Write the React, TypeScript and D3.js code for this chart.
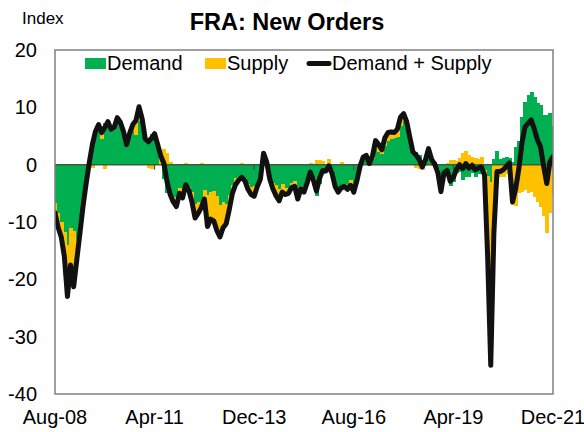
import React from 'react';
import * as d3 from 'd3';

// Monthly, Aug-08 .. Dec-21 (161 obs)
const START_YEAR = 2008;
const START_MONTH = 7; // August (0-based)

const demand: number[] = [
  -6.7, -8.5, -10.0, -11.7, -14.0, -11.0, -11.5, -13.0, -10.5, -6.5, -3.0,
  0.3, 4.0, 5.5, 6.2, 4.4, 7.3, 7.0, 5.9, 6.0, 7.2, 6.6, 5.2,
  3.2, 5.0, 5.8, 5.2, 7.6, 7.2, 4.2, 4.6, 5.3, 5.0, 3.2, 0.0, -2.5,
  -5.0, -5.7, -5.7, -6.1, -4.0, -5.3, -3.8, -3.9, -4.7, -6.8, -6.5, -7.8,
  -4.5, -5.3, -4.7, -4.6, -5.5, -7.1, -6.5, -6.8, -5.3, -3.5, -2.3, -2.2, -2.5,
  -2.3, -3.3, -3.9, -3.7, -3.0, -2.2, 1.7, 0.3, -2.0, -3.2, -3.6, -4.3, -3.3, -4.0, -4.0, -3.2, -2.8, -4.8,
  -3.7, -4.2, -2.9, -1.6, -2.3, -5.4, -3.3, -1.6, -0.8, -1.2, -1.0, -3.2, -4.1, -4.4, -3.3, -3.5, -2.7, -4.2, -2.5, -0.1,
  1.0, 1.4, 0.5, 1.0, 3.2, 2.2, 1.8, 3.2, 4.1, 4.5, 4.6, 4.9, 6.8, 7.7, 6.7,
  4.0, 1.6, 2.2, 1.7, 0.6, 1.1, 2.4, 1.2, 0.5, -0.8, -3.5, -1.1, -1.3, -3.7, -3.1, -1.4, -1.2, -2.7, -2.1, -2.2, -1.4, -2.1, -1.6, -1.7,
  -1.0, -2.0, -3.0, 1.0, 2.3, 1.0, 1.2, 1.3, 1.2,
  0.5, 3.0, 4.2, 8.4, 11.0, 12.2, 12.6, 11.8, 10.8, 10.4, 8.7, 8.7, 9.0, 6.7,
];

const supply: number[] = [
  -1.7, -2.4, -2.6, -4.3, -9.0, -6.5, -9.8, -3.6, -1.5, -0.8, -0.3,
  0, -0.5, 0.3, 0.8, 1.2, -0.8, 0.5, 0.3, 0.5, 1.0, 0.8, 0.6,
  0.3, 0.5, 1.2, 2.5, 2.5, 0.8, 0.3, -0.6, -0.7, 0.4, 0.3, 1.5, 2.7,
  2.0, 0.5, -0.8, -1.2, -1.0, -0.5, 0.3, -0.6, -1.8, -2.5, -2.0, 0.3,
  -1.5, -5.5, -4.8, -5.2, -6.0, -5.5, -4.5, -3.5, -2.5, -1.5, -1.2, -0.5, 0.3,
  -0.5, -1.0, -1.3, -1.8, -0.8, -0.3, 0.3, 0.2, -0.5, -1.0, -1.8, -2.0, -1.5, -1.2, -1.0, -0.8, -1.0, -1.2,
  -0.5, -0.6, -0.3, 0.3, -0.4, 0.8, 0.9, 0.6, -0.3, 1.0, -0.5, -0.6, -0.7, 0.4, -0.5, -0.8, -0.9, -0.6, -0.3, -0.2,
  0.3, 0.2, -0.3, 0.5, 1.0, 1.3, 0.8, 1.5, 1.5, 1.2, 1.0, 1.3, 1.5, 1.2, 0.8,
  0.8, 0.6, -0.5, -0.8, -1.0, -0.3, 0.4, -0.3, -0.4, -0.6, -1.2, -0.3, 0.3, 0.8, 0.9, 0.6, 1.2, 2.0, 2.3, 1.6, 1.3, 1.2, 1.0, 1.3,
  -0.8, -14.0, -32.0, -13.0, -3.5, -2.2, -2.1, -1.6, -0.9,
  -7.0, -7.2, -5.0, -4.7, -4.4, -5.0, -4.8, -5.6, -6.5, -7.3, -9.0, -12.0, -8.5, -5.3,
];

const yTicks = [20, 10, 0, -10, -20, -30, -40];
const xTickIdx = [0, 32, 64, 96, 128, 160];

const W = 584;
const H = 432;
const M = { left: 55, right: 553, top: 50, bottom: 394 };
const GREEN = '#00B050';
const YELLOW = '#FFC000';
const FONT = '"Liberation Sans", Arial, sans-serif';

const monthLabel = (i: number) => {
  const d = new Date(START_YEAR, START_MONTH + i, 1);
  return d3.timeFormat('%b-%y')(d);
};

const App: React.FC = () => {
  const n = demand.length;
  const rows = demand.map((d, i) => ({ i, demand: d, supply: supply[i] }));

  const x = d3.scaleLinear().domain([0, n - 1]).range([M.left, M.right]);
  const y = d3.scaleLinear().domain([-40, 20]).range([M.bottom, M.top]);
  const step = x(1) - x(0);

  const series = d3.stack<any>()
    .keys(['demand', 'supply'])
    .offset(d3.stackOffsetDiverging)(rows);

  const line = d3.line<any>()
    .x(d => x(d.i))
    .y(d => y(d.demand + d.supply));

  const colors: Record<string, string> = { demand: GREEN, supply: YELLOW };

  return (
    <div style={{ position: 'fixed', left: 0, top: 0 }}>
      <svg width={W} height={H} style={{ display: 'block', background: '#fff' }} fontFamily={FONT}>
        <defs>
          <clipPath id="plot">
            <rect x={M.left} y={M.top} width={M.right - M.left} height={M.bottom - M.top} />
          </clipPath>
        </defs>

        <text x={22} y={24} fontSize={17} fill="#000">Index</text>
        <text x={287} y={30} fontSize={23.5} fontWeight="bold" textAnchor="middle" fill="#000">
          FRA: New Orders
        </text>

        <g clipPath="url(#plot)">
          {series.map(s => (
            <g key={s.key} fill={colors[s.key]} shapeRendering="crispEdges">
              {s.map((p, j) => {
                const y0 = y(p[0]);
                const y1 = y(p[1]);
                return (
                  <rect
                    key={j}
                    x={x(j) - step / 2}
                    width={step + 0.8}
                    y={Math.min(y0, y1)}
                    height={Math.abs(y1 - y0)}
                  />
                );
              })}
            </g>
          ))}
          <line x1={M.left} x2={M.right} y1={y(0)} y2={y(0)} stroke="#3f5a3f" strokeWidth={1.5} />
          {xTickIdx.map(t => (
            <line key={t} x1={x(t)} x2={x(t)} y1={y(0)} y2={y(0) + 5} stroke="#404040" strokeWidth={1} />
          ))}
          <path
            d={line(rows) || ''}
            fill="none"
            stroke="#111"
            strokeWidth={5}
            strokeLinejoin="round"
            strokeLinecap="round"
          />
        </g>

        <rect
          x={M.left}
          y={M.top}
          width={M.right - M.left}
          height={M.bottom - M.top}
          fill="none"
          stroke="#808080"
          strokeWidth={1.5}
        />

        {yTicks.map(t => (
          <text key={t} x={37} y={y(t) + 7} fontSize={20} textAnchor="end" fill="#000">
            {t}
          </text>
        ))}

        {xTickIdx.map(t => (
          <text key={t} x={x(t)} y={424} fontSize={20} textAnchor="middle" fill="#000">
            {monthLabel(t)}
          </text>
        ))}

        <g fontSize={20} fill="#000">
          <rect x={85} y={58} width={21} height={11} fill={GREEN} />
          <text x={107} y={70}>Demand</text>
          <rect x={205} y={58} width={21} height={11} fill={YELLOW} />
          <text x={227} y={70}>Supply</text>
          <line x1={309} x2={329} y1={63.5} y2={63.5} stroke="#111" strokeWidth={5} strokeLinecap="round" />
          <text x={332} y={70}>Demand + Supply</text>
        </g>
      </svg>
    </div>
  );
};

export default App;
